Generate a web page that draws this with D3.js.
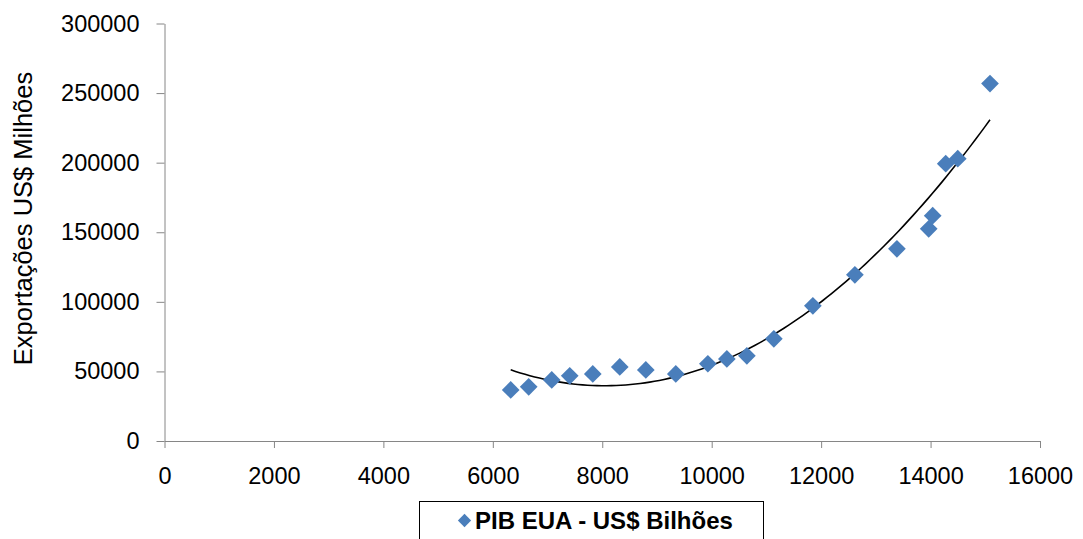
<!DOCTYPE html>
<html><head><meta charset="utf-8">
<script src="https://cdn.jsdelivr.net/npm/d3@7"></script>
<style>body{margin:0;background:#fff}svg{display:block}</style>
</head><body>
<svg id="c" width="1083" height="539"></svg>
<script>
const pibX = [6327, 6656, 7077, 7406, 7827, 8320, 8796, 9344, 9930, 10277, 10643, 11136, 11849, 12617, 13385, 13966, 14039, 14277, 14497, 15086];
const exportY = [36700, 38900, 43900, 46800, 48200, 53200, 51100, 48200, 55500, 59000, 61200, 73400, 97100, 119400, 138100, 152500, 161900, 199300, 202900, 256800];
const xTicks = [0, 2000, 4000, 6000, 8000, 10000, 12000, 14000, 16000];
const yTicks = [0, 50000, 100000, 150000, 200000, 250000, 300000];
const seriesName = "PIB EUA - US$ Bilhões";
const yTitle = "Exportações US$ Milhões";

const svg = d3.select("#c");
const x = d3.scaleLinear().domain([0, 16000]).range([164.5, 1040]);
const y = d3.scaleLinear().domain([0, 300000]).range([441, 23.5]);
const font = "'Liberation Sans', Arial, sans-serif";
const axisColor = "#868686";

// axes
const gx = svg.append("g").attr("transform", "translate(0,441)")
  .call(d3.axisBottom(x).tickValues(xTicks).tickFormat(d3.format("d")).tickSizeOuter(0).tickSizeInner(7).tickPadding(19));
const gy = svg.append("g").attr("transform", "translate(164.5,0)")
  .call(d3.axisLeft(y).tickValues(yTicks).tickFormat(d3.format("d")).tickSizeOuter(0).tickSizeInner(8).tickPadding(17));
[gx, gy].forEach(g => {
  g.select(".domain").attr("stroke", axisColor);
  g.selectAll(".tick line").attr("stroke", axisColor);
  g.selectAll(".tick text").attr("fill", "#000").style("font-family", font).style("font-size", "23.5px");
});

// y title
svg.append("text").attr("transform", "translate(32,218.5) rotate(-90)")
  .attr("text-anchor", "middle")
  .style("font-family", font).style("font-size", "25.5px").text(yTitle);

// quadratic least-squares trendline
function quadFit(xs, ys) {
  let s = [0,0,0,0,0], t = [0,0,0];
  xs.forEach((xi, i) => {
    for (let k = 0; k < 5; k++) s[k] += Math.pow(xi, k);
    for (let k = 0; k < 3; k++) t[k] += ys[i] * Math.pow(xi, k);
  });
  const A = [[s[0],s[1],s[2],t[0]],[s[1],s[2],s[3],t[1]],[s[2],s[3],s[4],t[2]]];
  for (let i = 0; i < 3; i++) {
    for (let j = i+1; j < 3; j++) {
      const f = A[j][i] / A[i][i];
      for (let k = i; k < 4; k++) A[j][k] -= f * A[i][k];
    }
  }
  const c = [0,0,0];
  for (let i = 2; i >= 0; i--) {
    let v = A[i][3];
    for (let k = i+1; k < 3; k++) v -= A[i][k] * c[k];
    c[i] = v / A[i][i];
  }
  return c;
}
const coef = quadFit(pibX, exportY);
const x0 = d3.min(pibX), x1 = d3.max(pibX);
const trend = d3.range(0, 101).map(i => {
  const xv = x0 + (x1 - x0) * i / 100;
  return [xv, coef[0] + coef[1]*xv + coef[2]*xv*xv];
});
svg.append("path").datum(trend)
  .attr("d", d3.line().x(d => x(d[0])).y(d => y(d[1])))
  .attr("fill", "none").attr("stroke", "#000").attr("stroke-width", 1.6);

// markers
const diamond = d3.symbol().type(d3.symbolDiamond2).size(200);
svg.append("g").selectAll("path").data(pibX.map((v, i) => [v, exportY[i]])).join("path")
  .attr("d", diamond)
  .attr("transform", d => `translate(${x(d[0])},${y(d[1])})`)
  .attr("fill", "#4A7EBB");

// legend
const lg = svg.append("g");
lg.append("rect").attr("x", 419.5).attr("y", 501.5).attr("width", 344).attr("height", 45)
  .attr("fill", "#fff").attr("stroke", "#000").attr("stroke-width", 1);
lg.append("path").attr("d", d3.symbol().type(d3.symbolDiamond2).size(112))
  .attr("transform", "translate(464.5,520.5)").attr("fill", "#4A7EBB");
lg.append("text").attr("x", 475).attr("y", 529)
  .style("font-family", font).style("font-size", "24px").style("font-weight", "bold")
  .text(seriesName);
</script>
</body></html>
